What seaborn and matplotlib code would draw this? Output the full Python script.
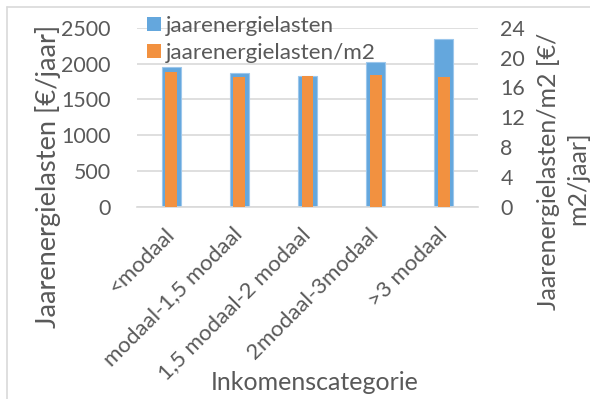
import matplotlib
matplotlib.use("Agg")
import matplotlib.pyplot as plt
from matplotlib.lines import Line2D
from matplotlib.patches import Patch
import seaborn as sns
import pandas as pd

# Income categories and the two annual energy-cost series
categories = ["<modaal", "modaal-1,5 modaal", "1,5 modaal-2 modaal",
              "2modaal-3modaal", ">3 modaal"]
lasten = [1955, 1872, 1825, 2021, 2342]          # €/jaar
lasten_m2 = [18.1, 17.45, 17.5, 17.6, 17.35]     # €/m2/jaar

left_ticks = [0, 500, 1000, 1500, 2000, 2500]
right_ticks = [0, 4, 8, 12, 16, 20, 24]

sns.set_theme(style="white")
plt.rcParams["font.family"] = ["Lato", "DejaVu Sans"]
text_col = "#595959"
grid_col = "#d9d9d9"
blue = "#64a7dd"
orange = "#f29140"

df = pd.DataFrame({"cat": categories, "lasten": lasten, "lasten_m2": lasten_m2})

W, H = 590, 399
fig = plt.figure(figsize=(W / 100, H / 100), dpi=100)
ax = fig.add_axes([137 / W, 1 - 206.7 / H, (478 - 137) / W, (206.7 - 27.7) / H])
ax2 = ax.twinx()

# wide blue bars on the left axis, narrow orange bars on the right axis
sns.barplot(data=df, x="cat", y="lasten", color=blue, width=0.28,
            saturation=1, ax=ax, zorder=2, linewidth=0.8, edgecolor="#9cc7ec")
sns.barplot(data=df, x="cat", y="lasten_m2", color=orange, width=0.175,
            saturation=1, ax=ax2, zorder=3, linewidth=0)

ax.set_ylim(0, 2500)
ax2.set_ylim(0, 24)
ax.set_xlim(-0.5, len(categories) - 0.5)
ax.set_yticks(left_ticks)
ax2.set_yticks(right_ticks)

ax.yaxis.grid(True, color=grid_col, linewidth=1.2, zorder=0)
ax.set_axisbelow(True)
for a in (ax, ax2):
    for s in a.spines.values():
        s.set_visible(False)
    a.tick_params(length=0, colors=text_col)
ax.spines["bottom"].set_visible(True)
ax.spines["bottom"].set_color(grid_col)
ax.spines["bottom"].set_linewidth(1.2)
ax.tick_params(axis="y", pad=19, labelsize=15.4)
ax2.tick_params(axis="y", pad=16, labelsize=15.4)
ax.tick_params(axis="x", pad=17.5, labelsize=16)

ax.set_xticks(range(len(categories)))
ax.set_xticklabels(categories, fontsize=16, color=text_col)
for lab in ax.get_xticklabels():
    lab.set_rotation(45)
    lab.set_rotation_mode("anchor")
    lab.set_horizontalalignment("right")
    lab.set_verticalalignment("center")

ax.set_xlabel("")
ax.set_ylabel("")
ax2.set_ylabel("")
fig.text(315 / W, 1 - 383 / H, "Inkomenscategorie", ha="center", va="center",
         fontsize=18, color=text_col)
fig.text(48.5 / W, 1 - 176 / H, "Jaarenergielasten [€/jaar]", rotation=90,
         ha="center", va="center", fontsize=19.6, color=text_col)
fig.text(548 / W, 1 - 171 / H, "Jaarenergielasten/m2 [€/", rotation=90,
         ha="center", va="center", fontsize=18, color=text_col)
fig.text(578 / W, 1 - 178 / H, "m2/jaar]", rotation=90,
         ha="center", va="center", fontsize=18, color=text_col)

handles = [Patch(facecolor=blue, edgecolor="none"),
           Patch(facecolor=orange, edgecolor="none")]
leg = ax2.legend(handles, ["jaarenergielasten", "jaarenergielasten/m2"],
                 loc="upper left", bbox_to_anchor=(147 / W, 1 - 16 / H),
                 bbox_transform=fig.transFigure, frameon=False,
                 fontsize=16.2, handlelength=0.62, handleheight=0.62,
                 handletextpad=0.22, labelspacing=0.30, borderaxespad=0,
                 borderpad=0)
for t in leg.get_texts():
    t.set_color(text_col)

# chart-area border (top and left edges)
fig.add_artist(Line2D([6.5 / W, 6.5 / W], [0, 1 - 6.5 / H],
                      transform=fig.transFigure, color=grid_col, linewidth=1.2))
fig.add_artist(Line2D([6.5 / W, 1], [1 - 6.5 / H, 1 - 6.5 / H],
                      transform=fig.transFigure, color=grid_col, linewidth=1.2))

fig.savefig("out.png", dpi=100, facecolor="white")
